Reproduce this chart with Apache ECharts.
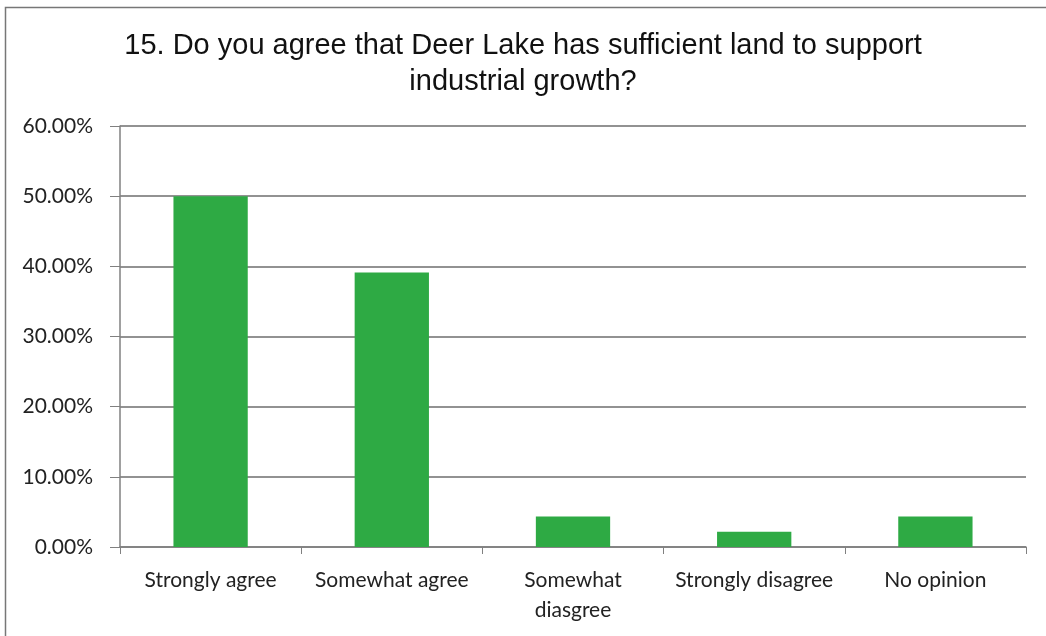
<!DOCTYPE html>
<html>
<head>
<meta charset="utf-8">
<script src="https://cdn.jsdelivr.net/npm/echarts@6/dist/echarts.min.js"></script>
<style>
  html, body { margin: 0; padding: 0; background: #fff; }
  #chart { width: 1046px; height: 636px; }
</style>
</head>
<body>
<div id="chart"></div>
<script>
const titleText = '15. Do you agree that Deer Lake has sufficient land to support\nindustrial growth?';
const categories = ['Strongly agree', 'Somewhat agree', 'Somewhat\ndiasgree', 'Strongly disagree', 'No opinion'];
const percents = [50.0, 39.13, 4.35, 2.17, 4.35];
const yTicks = [0, 10, 20, 30, 40, 50, 60];

const chart = echarts.init(document.getElementById('chart'));

const option = {
  backgroundColor: '#fff',
  animation: false,
  title: {
    text: titleText,
    left: 'center',
    top: 23,
    textStyle: {
      fontFamily: 'Liberation Sans',
      fontSize: 29,
      fontWeight: 'normal',
      color: '#111',
      lineHeight: 36
    }
  },
  grid: {
    left: 120,
    right: 20,
    top: 126,
    bottom: 89
  },
  xAxis: {
    type: 'category',
    data: categories,
    axisLine: { lineStyle: { color: '#808080', width: 1.5 } },
    axisTick: { show: true, length: 7, lineStyle: { color: '#808080' } },
    axisLabel: {
      interval: 0,
      hideOverlap: false,
      margin: 18,
      fontFamily: 'Lato',
      fontSize: 21,
      color: '#222',
      lineHeight: 30
    }
  },
  yAxis: {
    type: 'value',
    min: yTicks[0],
    max: yTicks[yTicks.length - 1],
    interval: 10,
    axisLine: { show: true, lineStyle: { color: '#808080', width: 1.5 } },
    axisTick: { show: true, length: 10, lineStyle: { color: '#808080' } },
    splitLine: { lineStyle: { color: '#6e6e6e', width: 1.5 } },
    axisLabel: {
      margin: 27,
      fontFamily: 'Lato',
      fontSize: 21,
      color: '#222',
      formatter: v => v.toFixed(2) + '%'
    }
  },
  series: [{
    type: 'bar',
    data: percents,
    barCategoryGap: '59%',
    itemStyle: { color: '#2eaa44' }
  }],
  graphic: [{
    type: 'polyline',
    silent: true,
    shape: { points: [[5.5, 640], [5.5, 7.5], [1050, 7.5]] },
    style: { stroke: '#777', lineWidth: 1.5, fill: null }
  }]
};

chart.setOption(option);
</script>
</body>
</html>
